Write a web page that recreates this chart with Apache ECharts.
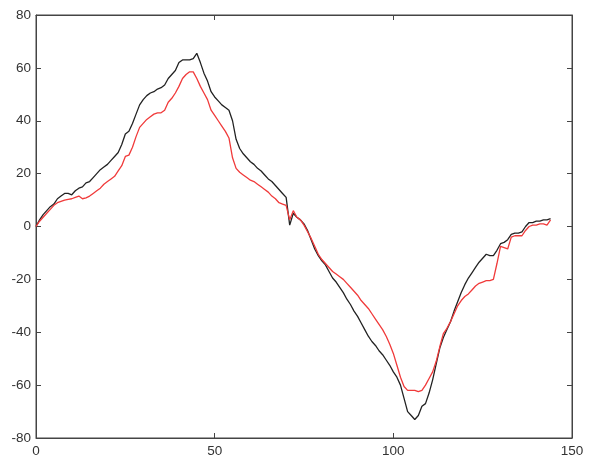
<!DOCTYPE html>
<html>
<head>
<meta charset="utf-8">
<script src="https://cdn.jsdelivr.net/npm/echarts@6/dist/echarts.min.js"></script>
<style>
  html, body { margin: 0; padding: 0; background: #fff; }
  #chart { width: 589px; height: 465px; }
</style>
</head>
<body>
<div id="chart"></div>
<script>
// sample index (0..144)
var xs = [];
for (var i = 0; i <= 144; i++) xs.push(i);

// black trace
var blackVals = [
  0, 2.5, 4.5, 6, 7.5, 8.5, 10.5, 11.5, 12.5, 12.5,
  12, 13.5, 14.5, 15, 16.5, 17, 18.5, 20, 21.5, 22.5,
  23.5, 25, 26.5, 28, 31, 35, 36, 39, 42.5, 46,
  48, 49.5, 50.5, 51, 52, 52.5, 53.5, 56, 57.5, 59,
  62, 63, 63, 63, 63.5, 65.5, 62, 58, 55, 51,
  49, 47.5, 46, 45, 44, 40, 33, 29.5, 27.5, 26,
  24.5, 23.5, 22, 21, 19.5, 18, 17, 15.5, 14, 12.5,
  11, 0.5, 5, 3.5, 2.5, 1, -1.5, -5, -8.5, -11,
  -13, -14.5, -17, -19.5, -21, -23, -25, -27.5, -29.5, -32,
  -34, -36.5, -39, -41.5, -43.5, -45, -47, -48.5, -50.5, -52.5,
  -55, -57, -60, -65, -70, -71.5, -73, -71.5, -68, -67,
  -63, -58, -52, -46, -42, -39, -36, -32, -28.5, -25,
  -22, -19.5, -17.5, -15.5, -13.5, -12, -10.5, -11, -11, -9,
  -6.5, -6, -5, -3, -2.5, -2.5, -2, 0, 1.5, 1.5,
  2, 2, 2.5, 2.5, 3
];

// red trace
var redVals = [
  0, 2, 3.5, 5, 6.5, 8, 9, 9.5, 10, 10.3,
  10.5, 11, 11.5, 10.5, 10.8, 11.5, 12.5, 13.5, 14.5, 16,
  17, 18, 19, 21, 23, 26.5, 27, 30, 34, 37.5,
  39, 40.5, 41.5, 42.5, 43, 43, 44, 47, 48.5, 50.5,
  53, 56, 57.5, 58.5, 58.5, 56, 53, 50.5, 48, 44,
  42, 40, 38, 36, 33.5, 26, 22, 20.5, 19.5, 18.5,
  17.5, 17, 16, 15, 14, 13, 11.5, 10.5, 9, 8.5,
  8, 2.5, 6, 3.5, 2.5, 0.5, -2, -4.5, -7.5, -10.5,
  -12.5, -14, -15.5, -17, -18, -19, -20, -21.5, -23, -24.5,
  -26, -28, -29.5, -31, -33, -35, -37, -39, -41.5, -44.5,
  -48, -52.5, -57, -60.5, -62, -62, -62, -62.5, -62, -60,
  -57.5, -55, -51, -45.5, -40.5, -38.5, -36, -33, -30, -28,
  -26.5, -25.5, -24, -22.5, -21.5, -21, -20.5, -20.5, -20, -14,
  -7.5, -8, -8.5, -4, -3.5, -3.5, -3.5, -1.5, 0, 0.5,
  0.5, 1, 1, 0.5, 2.5
];

var xTicks = [0, 50, 100, 150];
var yTicks = [-80, -60, -40, -20, 0, 20, 40, 60, 80];

function pairs(vals) {
  return xs.map(function (x, k) { return [x, vals[k]]; });
}

var chart = echarts.init(document.getElementById('chart'));

var axisCol = '#444';
var labelStyle = { color: '#333', fontSize: 13.5, fontFamily: 'Arial, "Liberation Sans", sans-serif' };
var tick = { show: true, inside: true, length: 5, lineStyle: { color: axisCol } };

var option = {
  animation: false,
  grid: {
    left: 36, right: 17, top: 15, bottom: 27,
    show: true, borderColor: axisCol, borderWidth: 1, backgroundColor: '#fff'
  },
  xAxis: [{
    type: 'value', min: xTicks[0], max: xTicks[xTicks.length - 1], interval: 50,
    axisLine: { show: true, onZero: false, lineStyle: { color: axisCol } },
    axisTick: tick,
    axisLabel: Object.assign({ margin: 6 }, labelStyle),
    splitLine: { show: false }
  }, {
    type: 'value', position: 'top', min: 0, max: 150, interval: 50,
    axisLine: { show: true, onZero: false, lineStyle: { color: axisCol } },
    axisTick: tick,
    axisLabel: { show: false },
    splitLine: { show: false }
  }],
  yAxis: [{
    type: 'value', min: yTicks[0], max: yTicks[yTicks.length - 1], interval: 20,
    axisLine: { show: true, onZero: false, lineStyle: { color: axisCol } },
    axisTick: tick,
    axisLabel: Object.assign({ margin: 5 }, labelStyle),
    splitLine: { show: false }
  }, {
    type: 'value', position: 'right', min: -80, max: 80, interval: 20,
    axisLine: { show: true, onZero: false, lineStyle: { color: axisCol } },
    axisTick: tick,
    axisLabel: { show: false },
    splitLine: { show: false }
  }],
  series: [{
    name: 'black',
    type: 'line',
    data: pairs(blackVals),
    showSymbol: false,
    lineStyle: { color: '#222', width: 1.3 },
    z: 2
  }, {
    name: 'red',
    type: 'line',
    data: pairs(redVals),
    showSymbol: false,
    lineStyle: { color: '#f03a3a', width: 1.3 },
    z: 3
  }]
};

chart.setOption(option);
</script>
</body>
</html>
